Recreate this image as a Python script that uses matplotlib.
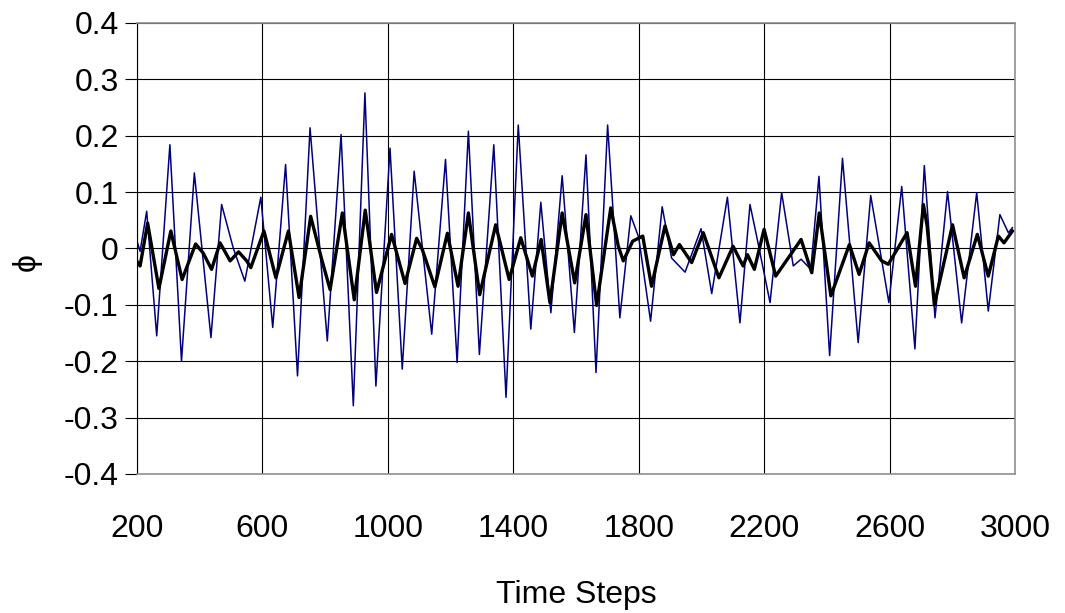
import numpy as np
import matplotlib.pyplot as plt

plt.rcParams['font.family'] = ['Liberation Sans', 'DejaVu Sans']

# blue series (turning points)
blue_t = [199, 210, 231, 263, 305, 342, 383, 436, 470, 507, 544,
          595, 633, 674, 712, 752, 807, 851, 890,
          927, 962, 1007, 1046, 1084, 1140, 1184, 1221, 1257, 1292,
          1338, 1377, 1416, 1456, 1488, 1520, 1556, 1595, 1632, 1664,
          1701, 1740, 1775, 1800, 1838, 1875, 1905, 1948, 1999, 2033,
          2083, 2123, 2155, 2175, 2219, 2256, 2293, 2318, 2349, 2375,
          2409, 2450, 2500, 2540, 2598, 2639, 2681, 2711, 2745,
          2785, 2830, 2878, 2915, 2952, 2979, 2992]
blue_v = [0.015, -0.005, 0.066, -0.155, 0.184, -0.2, 0.134, -0.158, 0.078, 0.001, -0.058,
          0.091, -0.14, 0.149, -0.226, 0.214, -0.164, 0.202, -0.279,
          0.276, -0.244, 0.178, -0.214, 0.137, -0.152, 0.158, -0.202, 0.208, -0.188,
          0.184, -0.264, 0.219, -0.143, 0.082, -0.114, 0.129, -0.149, 0.166, -0.22,
          0.219, -0.123, 0.058, 0.02, -0.129, 0.074, -0.017, -0.042, 0.035, -0.08,
          0.091, -0.132, 0.078, 0.025, -0.096, 0.099, -0.031, -0.019, -0.037, 0.128,
          -0.19, 0.16, -0.167, 0.094, -0.096, 0.11, -0.178, 0.147, -0.123,
          0.101, -0.132, 0.099, -0.111, 0.06, 0.028, 0.037]

# black series
black_t = [199, 210, 234, 270, 308, 344, 387, 411, 438, 465, 497, 524, 550,
           563, 605, 643, 683, 717, 754, 789, 816, 855, 893, 928,
           964, 1012, 1055, 1092, 1110, 1150, 1190, 1224, 1257, 1293,
           1344, 1387, 1424, 1461, 1489, 1517, 1556, 1596, 1632, 1666,
           1711, 1735, 1751, 1781, 1813, 1841, 1884, 1911, 1930, 1969, 2006,
           2056, 2101, 2133, 2147, 2169, 2200, 2237, 2318, 2352, 2376,
           2413, 2472, 2503, 2535, 2575, 2596, 2656, 2683, 2708, 2720, 2743,
           2801, 2838, 2880, 2915, 2947, 2965, 2992]
black_v = [-0.022, -0.031, 0.045, -0.071, 0.031, -0.055, 0.008, -0.008, -0.037, 0.01, -0.022, -0.006, -0.022,
           -0.034, 0.031, -0.052, 0.031, -0.087, 0.057, -0.019, -0.073, 0.063, -0.091, 0.068,
           -0.078, 0.025, -0.062, 0.018, -0.002, -0.068, 0.027, -0.067, 0.063, -0.082,
           0.042, -0.055, 0.019, -0.049, 0.016, -0.096, 0.063, -0.061, 0.06, -0.101,
           0.072, 0.004, -0.022, 0.013, 0.022, -0.067, 0.04, -0.011, 0.007, -0.025, 0.028,
           -0.052, 0.004, -0.031, -0.011, -0.037, 0.034, -0.049, 0.016, -0.043, 0.063,
           -0.084, 0.007, -0.046, 0.01, -0.022, -0.028, 0.028, -0.067, 0.078, 0.04, -0.1,
           0.042, -0.052, 0.025, -0.049, 0.022, 0.01, 0.031]

x_ticks = np.arange(200, 3001, 400)
y_ticks = np.arange(-0.4, 0.41, 0.1)

fig = plt.figure(figsize=(10.65, 6.13), dpi=100)
ax = fig.add_axes([0.1286, 0.2268, 0.8244, 0.7357])

ax.plot(blue_t, blue_v, color='#000080', linewidth=1.1)
ax.plot(black_t, black_v, color='black', linewidth=2.4)

ax.set_xlim(200, 3000)
ax.set_ylim(-0.4, 0.4)
ax.set_xticks(x_ticks)
ax.set_yticks(y_ticks)
ax.set_yticklabels([f"{v:.1f}".replace("-0.0", "0").replace("0.0", "0") for v in y_ticks])
ax.grid(True, color='black', linewidth=0.8)
ax.tick_params(labelsize=23)
ax.tick_params(axis='y', length=9, width=0.8, direction='out', pad=4)
ax.tick_params(axis='x', length=0, pad=29)
for s in ax.spines.values():
    s.set_color('#909090')
    s.set_linewidth(1.2)
ax.spines['left'].set_color('black')
ax.spines['left'].set_linewidth(0.8)

ax.set_xlabel("Time Steps", fontsize=23, labelpad=26)
ax.set_ylabel("\u03d5", fontsize=23, rotation=90, va='center', ha='center')
ax.yaxis.set_label_coords(-0.126, 0.47)

fig.savefig("out.png", dpi=100)
